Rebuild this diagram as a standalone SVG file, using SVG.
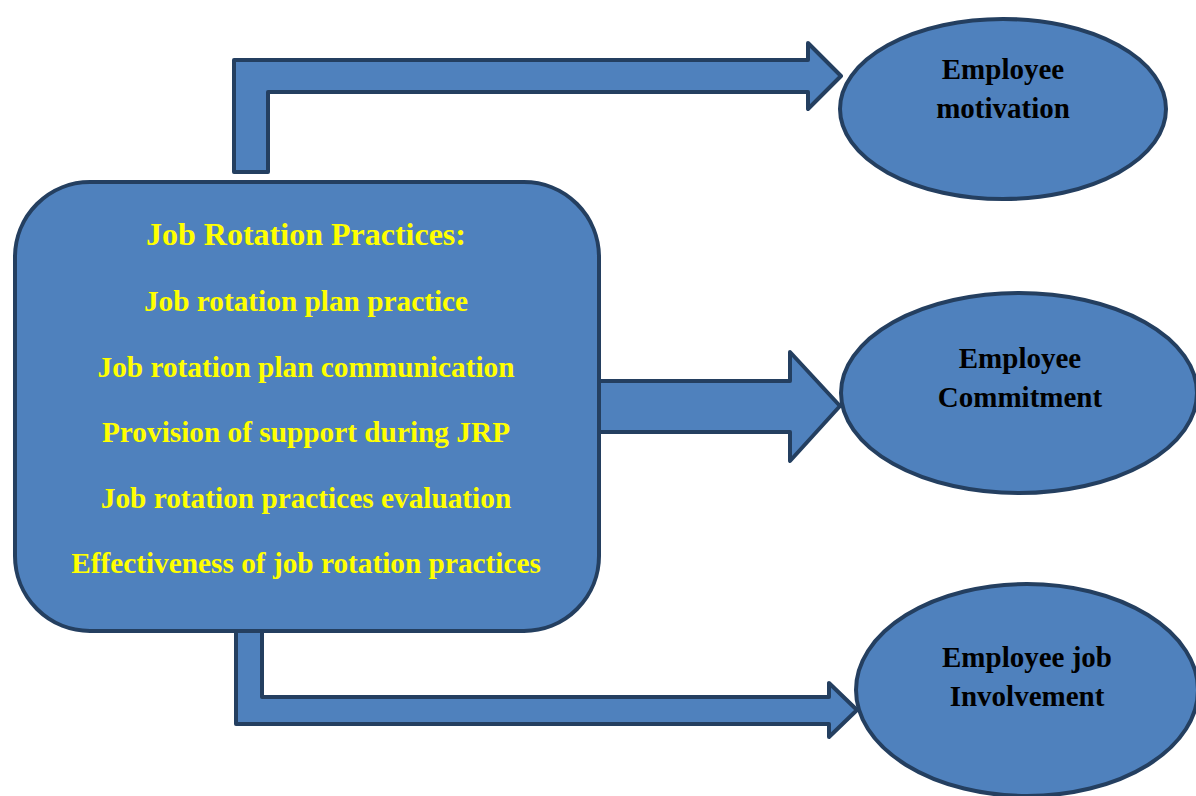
<svg xmlns="http://www.w3.org/2000/svg" width="1196" height="796" viewBox="0 0 1196 796">
  <style>
    .shape { fill: #4F81BD; stroke: #243F60; stroke-width: 4; stroke-linejoin: round; }
    .box-text { font-family: "Liberation Serif", "Times New Roman", serif; font-weight: bold; fill: #FFFF00; text-anchor: middle; }
    .oval-text { font-family: "Liberation Serif", "Times New Roman", serif; font-weight: bold; fill: #000000; text-anchor: middle; font-size: 29px; }
  </style>
  <rect width="1196" height="796" fill="#FFFFFF"/>

  <g id="connectors">
    <polygon class="shape" points="234,172 234,60 808,60 808,43 841,76 808,109 808,92 268,92 268,172"/>
    <polygon class="shape" points="590,381 790,381 790,352 840,406 790,461 790,432 590,432"/>
    <polygon class="shape" points="236,620 236,724 829,724 829,737 857,710 829,683 829,697 262,697 262,620"/>
  </g>

  <g id="job-rotation-practices">
    <rect class="shape" x="15" y="182" width="584" height="449" rx="75" ry="75"/>
    <text class="box-text" x="306" y="245" font-size="32">Job Rotation Practices:</text>
    <text class="box-text" x="306" y="311" font-size="29.3">Job rotation plan practice</text>
    <text class="box-text" x="306" y="377" font-size="29.3">Job rotation plan communication</text>
    <text class="box-text" x="306" y="442" font-size="29.3">Provision of support during JRP</text>
    <text class="box-text" x="306" y="508" font-size="29.3">Job rotation practices evaluation</text>
    <text class="box-text" x="306" y="573" font-size="29.3">Effectiveness of job rotation practices</text>
  </g>

  <g id="employee-motivation">
    <ellipse class="shape" cx="1003" cy="109" rx="163" ry="90"/>
    <text class="oval-text" x="1003" y="79">Employee</text>
    <text class="oval-text" x="1003" y="118">motivation</text>
  </g>

  <g id="employee-commitment">
    <ellipse class="shape" cx="1019" cy="393" rx="178" ry="100"/>
    <text class="oval-text" x="1020" y="368">Employee</text>
    <text class="oval-text" x="1020" y="407">Commitment</text>
  </g>

  <g id="employee-job-involvement">
    <ellipse class="shape" cx="1027" cy="690" rx="171" ry="106"/>
    <text class="oval-text" x="1027" y="667">Employee job</text>
    <text class="oval-text" x="1027" y="706">Involvement</text>
  </g>
</svg>
